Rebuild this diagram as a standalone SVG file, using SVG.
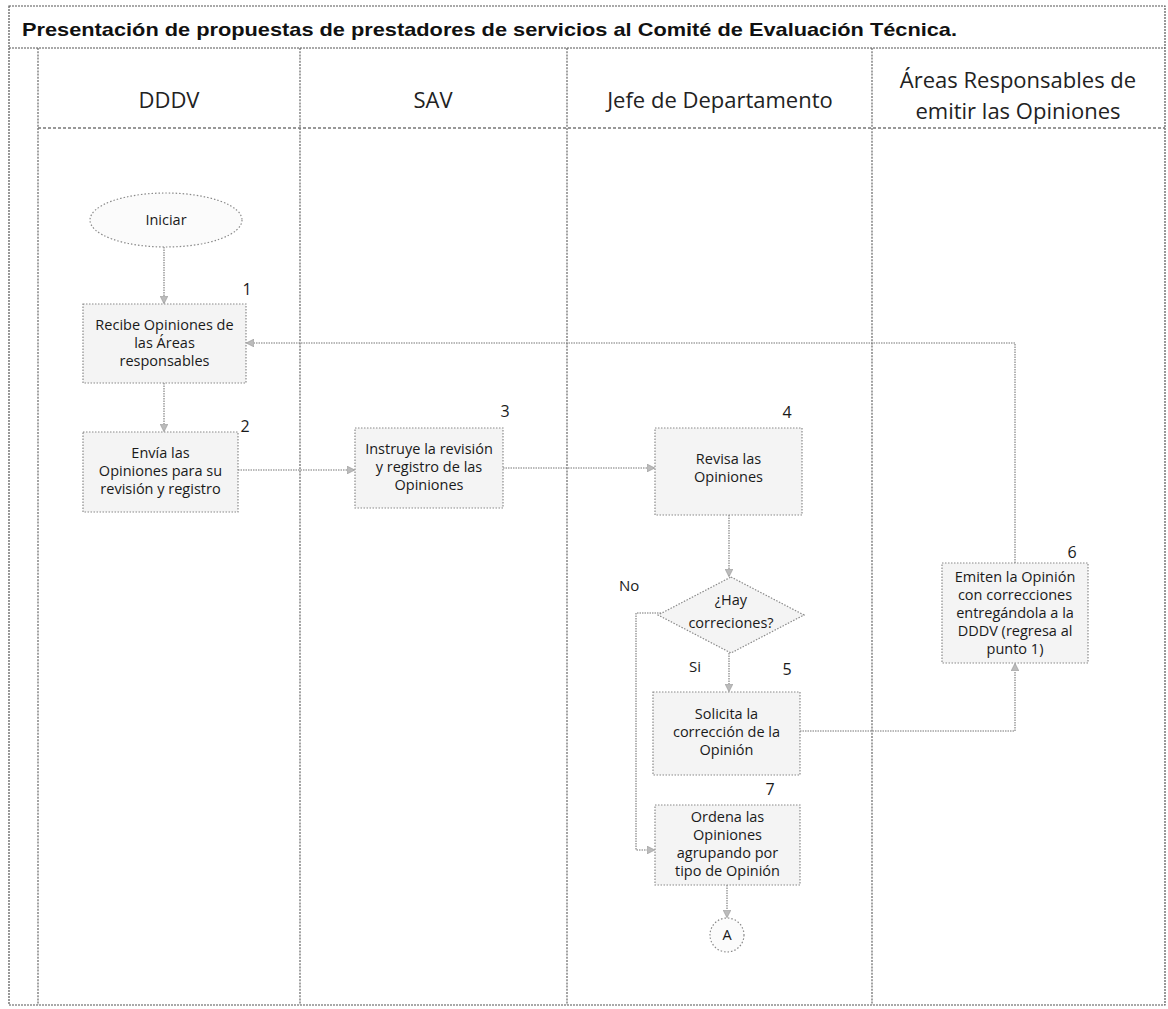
<svg xmlns="http://www.w3.org/2000/svg" width="1168" height="1009" viewBox="0 0 1168 1009">
  <style>
    .frame { fill: none; stroke: #555; stroke-width: 1.2; stroke-dasharray: 2 1; }
    .lane { fill: none; stroke: #666; stroke-width: 1.2; stroke-dasharray: 2 1.2; }
    .hdrline { fill: none; stroke: #777; stroke-width: 1.6; stroke-dasharray: 3 2; }
    .title { font-family: "Liberation Sans", Arial, sans-serif; font-weight: bold; font-size: 18.5px; fill: #111; }
    .hdr { font-family: "Open Sans", "Noto Sans", sans-serif; font-size: 22px; fill: #222; text-anchor: middle; }
    .box { fill: #f4f4f4; stroke: #8a8a8a; stroke-width: 1.2; stroke-dasharray: 1.5 1.5; }
    .term { fill: #fbfbfb; stroke: #8a8a8a; stroke-width: 1.2; stroke-dasharray: 1.5 2; }
    .txt { font-family: "Open Sans", "Noto Sans", sans-serif; font-size: 14.5px; fill: #1a1a1a; text-anchor: middle; }
    .num { font-family: "Open Sans", "Noto Sans", sans-serif; font-size: 16px; fill: #1a1a1a; text-anchor: middle; }
    .lbl { font-family: "Open Sans", "Noto Sans", sans-serif; font-size: 15px; fill: #1a1a1a; }
    .conn { fill: none; stroke: #777; stroke-width: 1.1; stroke-dasharray: 1.5 1; }
  </style>
  <defs>
    <marker id="arrow" viewBox="0 0 10 10" refX="9" refY="5" markerWidth="8" markerHeight="8" orient="auto" markerUnits="userSpaceOnUse">
      <path d="M0,0 L10,5 L0,10 z" fill="#bbb" stroke="#999" stroke-width="0.8"/>
    </marker>
  </defs>

  <rect width="1168" height="1009" fill="#ffffff"/>

  <!-- page frame and title band -->
  <g id="frame">
    <rect class="frame" x="9" y="6" width="1156" height="999"/>
    <line class="frame" x1="9" y1="48" x2="1165" y2="48"/>
    <text class="title" x="22" y="36" textLength="935" lengthAdjust="spacingAndGlyphs">Presentación de propuestas de prestadores de servicios al Comité de Evaluación Técnica.</text>
  </g>

  <!-- swimlanes -->
  <g id="lanes">
    <line class="lane" x1="38" y1="48" x2="38" y2="1005"/>
    <line class="lane" x1="300" y1="48" x2="300" y2="1005"/>
    <line class="lane" x1="567" y1="48" x2="567" y2="1005"/>
    <line class="lane" x1="872" y1="48" x2="872" y2="1005"/>
    <line class="hdrline" x1="38" y1="128" x2="1165" y2="128"/>
    <text class="hdr" x="169" y="108">DDDV</text>
    <text class="hdr" x="433" y="108">SAV</text>
    <text class="hdr" x="720" y="108">Jefe de Departamento</text>
    <text class="hdr" x="1018" y="88">Áreas Responsables de</text>
    <text class="hdr" x="1018" y="119">emitir las Opiniones</text>
  </g>

  <!-- connectors -->
  <g id="connectors">
    <path class="conn" d="M164,247 L164,303" marker-end="url(#arrow)"/>
    <path class="conn" d="M164,383 L164,431" marker-end="url(#arrow)"/>
    <path class="conn" d="M238,470 L354,470" marker-end="url(#arrow)"/>
    <path class="conn" d="M503,468 L654,468" marker-end="url(#arrow)"/>
    <path class="conn" d="M729,515 L729,576" marker-end="url(#arrow)"/>
    <path class="conn" d="M729,653 L729,691" marker-end="url(#arrow)"/>
    <path class="conn" d="M661,613 L636,613 L636,850 L654,850" marker-end="url(#arrow)"/>
    <path class="conn" d="M800,731 L1015,731 L1015,664" marker-end="url(#arrow)"/>
    <path class="conn" d="M1015,563 L1015,343 L247,343" marker-end="url(#arrow)"/>
    <path class="conn" d="M727,885 L727,917" marker-end="url(#arrow)"/>
    <text class="lbl" x="619" y="591">No</text>
    <text class="lbl" x="689" y="672">Si</text>
  </g>

  <g id="start">
    <ellipse class="term" cx="166" cy="220" rx="76" ry="27"/>
    <text class="txt" x="166" y="225">Iniciar</text>
  </g>

  <g id="step1">
    <rect class="box" x="83" y="304" width="163" height="79"/>
    <text class="num" x="247" y="295">1</text>
    <text class="txt" x="164.5" y="330">Recibe Opiniones de</text>
    <text class="txt" x="164.5" y="348">las Áreas</text>
    <text class="txt" x="164.5" y="366">responsables</text>
  </g>

  <g id="step2">
    <rect class="box" x="83" y="432" width="155" height="80"/>
    <text class="num" x="245" y="432">2</text>
    <text class="txt" x="160.5" y="458">Envía las</text>
    <text class="txt" x="160.5" y="476">Opiniones para su</text>
    <text class="txt" x="160.5" y="494">revisión y registro</text>
  </g>

  <g id="step3">
    <rect class="box" x="355" y="428" width="148" height="80"/>
    <text class="num" x="505" y="417">3</text>
    <text class="txt" x="429" y="454">Instruye la revisión</text>
    <text class="txt" x="429" y="472">y registro de las</text>
    <text class="txt" x="429" y="490">Opiniones</text>
  </g>

  <g id="step4">
    <rect class="box" x="655" y="428" width="147" height="87"/>
    <text class="num" x="787" y="418">4</text>
    <text class="txt" x="728.5" y="464">Revisa las</text>
    <text class="txt" x="728.5" y="482">Opiniones</text>
  </g>

  <g id="decision">
    <polygon class="box" points="731,577 804,615 731,653 658,615"/>
    <text class="txt" x="731" y="605">¿Hay</text>
    <text class="txt" x="731" y="628">correciones?</text>
  </g>

  <g id="step5">
    <rect class="box" x="653" y="692" width="147" height="83"/>
    <text class="num" x="787" y="675">5</text>
    <text class="txt" x="726.5" y="719">Solicita la</text>
    <text class="txt" x="726.5" y="737">corrección de la</text>
    <text class="txt" x="726.5" y="755">Opinión</text>
  </g>

  <g id="step6">
    <rect class="box" x="942" y="563" width="146" height="100"/>
    <text class="num" x="1072" y="558">6</text>
    <text class="txt" x="1015" y="582">Emiten la Opinión</text>
    <text class="txt" x="1015" y="600">con correcciones</text>
    <text class="txt" x="1015" y="618">entregándola a la</text>
    <text class="txt" x="1015" y="636">DDDV (regresa al</text>
    <text class="txt" x="1015" y="654">punto 1)</text>
  </g>

  <g id="step7">
    <rect class="box" x="655" y="805" width="145" height="80"/>
    <text class="num" x="770" y="795">7</text>
    <text class="txt" x="727.5" y="822">Ordena las</text>
    <text class="txt" x="727.5" y="840">Opiniones</text>
    <text class="txt" x="727.5" y="858">agrupando por</text>
    <text class="txt" x="727.5" y="876">tipo de Opinión</text>
  </g>

  <g id="connector-a">
    <circle class="term" cx="727" cy="935" r="17"/>
    <text class="txt" x="727" y="940">A</text>
  </g>
</svg>
